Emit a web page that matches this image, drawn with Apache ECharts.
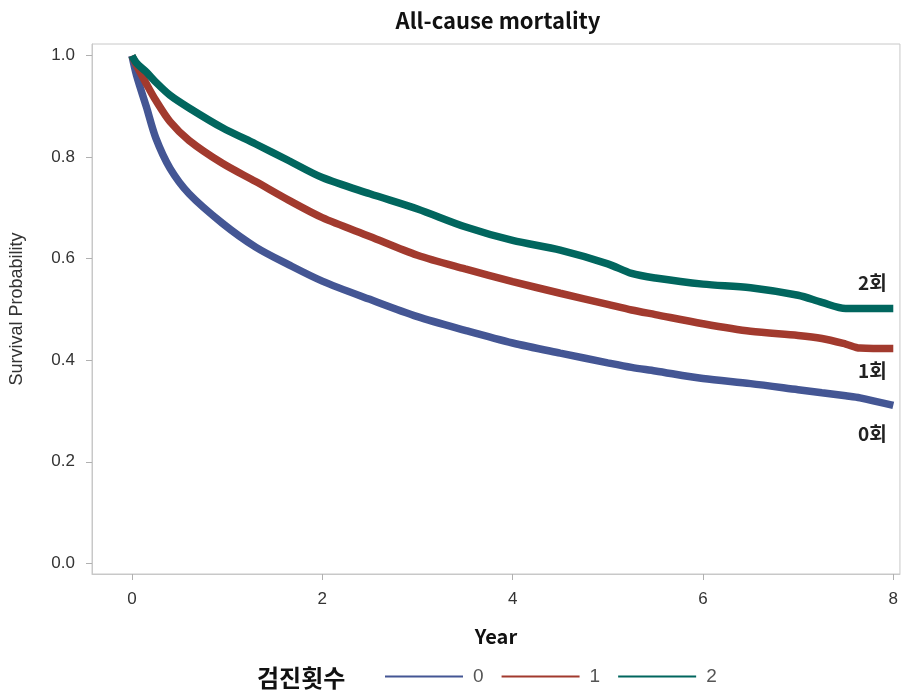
<!DOCTYPE html>
<html>
<head>
<meta charset="utf-8">
<script src="https://cdn.jsdelivr.net/npm/echarts@6/dist/echarts.min.js"></script>
<style>html,body{margin:0;padding:0;background:#fff}#c{width:901px;height:691px}</style>
</head>
<body>
<div id="c"></div>
<script>
var times = [0, 0.05, 0.15, 0.25, 0.4, 0.6, 0.95, 1.3, 1.65, 2, 2.5, 3, 3.5, 4, 4.5, 5, 5.25, 5.5, 6, 6.5, 7, 7.25, 7.5, 7.65, 8];
var surv0 = [1.0, 0.960, 0.900, 0.838, 0.778, 0.728, 0.670, 0.623, 0.588, 0.556, 0.520, 0.486, 0.459, 0.434, 0.414, 0.395, 0.386, 0.379, 0.364, 0.354, 0.342, 0.336, 0.330, 0.326, 0.311];
var surv1 = [1.0, 0.980, 0.945, 0.912, 0.870, 0.833, 0.788, 0.752, 0.715, 0.681, 0.644, 0.607, 0.580, 0.555, 0.532, 0.510, 0.499, 0.490, 0.472, 0.457, 0.449, 0.443, 0.432, 0.424, 0.423];
var surv2 = [1.0, 0.985, 0.968, 0.948, 0.922, 0.897, 0.858, 0.826, 0.793, 0.760, 0.728, 0.698, 0.663, 0.636, 0.617, 0.590, 0.571, 0.562, 0.550, 0.543, 0.528, 0.514, 0.502, 0.502, 0.502];
var groupNames = ['0', '1', '2'];
var endLabels = ['0회', '1회', '2회'];
var xTicks = [0, 2, 4, 6, 8];
var yTicks = [0, 0.2, 0.4, 0.6, 0.8, 1.0];

var colors = ['#445694', '#A23A2E', '#01665E'];
function pairs(v) { return times.map(function (t, i) { return [t, v[i]]; }); }
var allSurv = [surv0, surv1, surv2];

var chart = echarts.init(document.getElementById('c'));
var series = allSurv.map(function (s, i) {
  return {
    name: groupNames[i], type: 'line', data: pairs(s), showSymbol: false, symbol: 'none',
    smooth: 0.3, lineStyle: { color: colors[i], width: 7.5 }, itemStyle: { color: colors[i] },
    z: 2 + i, silent: true
  };
});
var cjk = '"Noto Sans CJK KR", "Noto Sans", sans-serif';
var sans = '"Liberation Sans", Arial, sans-serif';
chart.setOption({
  animation: false,
  title: { text: 'All-cause mortality', left: 493, textAlign: 'center', top: 5,
    textStyle: { fontFamily: cjk, fontSize: 22, fontWeight: 'bold', color: '#111' } },
  grid: { left: 90, top: 44, right: 1, bottom: 117, show: true, borderColor: '#c8c8c8', borderWidth: 1, containLabel: false },
  xAxis: {
    type: 'value', min: -0.42, max: 8.07,
    name: 'Year', nameLocation: 'middle', nameGap: 52,
    nameTextStyle: { fontFamily: cjk, fontSize: 20, fontWeight: 'bold', color: '#111' },
    axisLine: { show: true, onZero: false, lineStyle: { color: '#c8c8c8' } },
    axisTick: { show: true, length: 6, lineStyle: { color: '#b0b0b0' }, customValues: xTicks },
    axisLabel: { customValues: xTicks, margin: 17, fontFamily: sans, fontSize: 17, color: '#333' },
    splitLine: { show: false }
  },
  yAxis: {
    type: 'value', min: -0.021, max: 1.023,
    name: 'Survival Probability', nameLocation: 'middle', nameGap: 66,
    nameTextStyle: { fontFamily: sans, fontSize: 18, color: '#333' },
    axisLine: { show: true, onZero: false, lineStyle: { color: '#c8c8c8' } },
    axisTick: { show: true, length: 6, lineStyle: { color: '#b0b0b0' }, customValues: yTicks },
    axisLabel: { customValues: yTicks, margin: 17, fontFamily: sans, fontSize: 17, color: '#333',
      formatter: function (v) { return v.toFixed(1); } },
    splitLine: { show: false }
  },
  legend: {
    data: groupNames, left: 385, top: 667, padding: 0, itemWidth: 78, itemHeight: 2, itemGap: 18, icon: 'rect',
    textStyle: { fontFamily: sans, fontSize: 19, color: '#555', padding: [0, 0, 0, 5] }
  },
  graphic: [
    { type: 'text', x: 257, y: 678, style: { text: '검진횟수', font: 'bold 24px ' + cjk, fill: '#111', verticalAlign: 'middle' } },
    { type: 'text', x: 858, y: 283, style: { text: endLabels[2], font: 'bold 19px ' + cjk, fill: '#222', verticalAlign: 'middle' } },
    { type: 'text', x: 858, y: 371, style: { text: endLabels[1], font: 'bold 19px ' + cjk, fill: '#222', verticalAlign: 'middle' } },
    { type: 'text', x: 858, y: 434, style: { text: endLabels[0], font: 'bold 19px ' + cjk, fill: '#222', verticalAlign: 'middle' } }
  ],
  series: series
});
</script>
</body>
</html>
